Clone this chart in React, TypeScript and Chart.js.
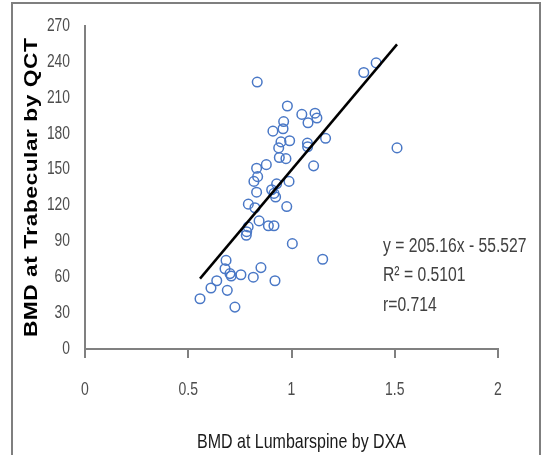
import { useEffect, useRef } from "react";
import { Chart, registerables } from "chart.js";

Chart.register(...registerables);

// BMD at lumbar spine by DXA (x) and BMD at trabecular by QCT (y)
const dxaValues = [
  0.557, 0.61, 0.638, 0.689, 0.726, 0.683, 0.678, 0.702, 0.708, 0.755,
  0.815, 0.852, 0.92, 1.151, 1.004, 0.783, 0.79, 0.781, 0.843, 0.888,
  0.915, 0.791, 0.823, 0.977, 0.831, 0.904, 0.915, 0.923, 0.928, 0.988,
  0.836, 0.818, 0.831, 0.878, 0.941, 0.973, 1.107, 0.938, 0.949, 0.991,
  1.077, 1.078, 1.165, 0.91, 0.959, 0.962, 1.08, 1.05, 1.114, 1.123,
  0.98, 0.834, 1.35, 1.41, 1.511,
];
const qctValues = [
  42, 51, 57, 49, 35, 74, 67, 63, 61, 62,
  60, 68, 57, 75, 88, 98, 102, 95, 107, 103,
  103, 121, 118, 119, 131, 133, 130, 127, 138, 140,
  144, 140, 151, 154, 160, 159, 153, 168, 173, 174,
  172, 169, 176, 182, 184, 190, 189, 196, 197, 193,
  203, 223, 231, 239, 168,
];
const xTickValues = [0, 0.5, 1, 1.5, 2];
const yTickValues = [0, 30, 60, 90, 120, 150, 180, 210, 240, 270];
const trendSlope = 205.16;
const trendIntercept = -55.527;
const statLines = ["y = 205.16x - 55.527", "R\u00B2 = 0.5101", "r=0.714"];
const xTitle = "BMD at Lumbarspine by DXA";
const yTitle = "BMD at Trabecular by QCT";

const SANS = '"Liberation Sans", Arial, sans-serif';
const STRETCH = 1.3; // the original figure is stretched vertically

export default function App() {
  const canvasRef = useRef<HTMLCanvasElement | null>(null);

  useEffect(() => {
    if (!canvasRef.current) return;
    const points = dxaValues.map((x, i) => ({ x, y: qctValues[i] }));
    const xMin = Math.min(...dxaValues);
    const xMax = Math.max(...dxaValues);
    const trend = [
      { x: xMin, y: trendSlope * xMin + trendIntercept },
      { x: xMax, y: trendSlope * xMax + trendIntercept },
    ];

    const statsPlugin = {
      id: "stats",
      afterDatasetsDraw(chart: any) {
        const { ctx, chartArea } = chart;
        ctx.save();
        ctx.fillStyle = "#404040";
        ctx.font = `15.7px ${SANS}`;
        ctx.textAlign = "left";
        ctx.textBaseline = "alphabetic";
        statLines.forEach((t, i) => {
          const x = chartArea.left + 298;
          const y = chartArea.top + 226 + i * 29.5;
          ctx.save();
          ctx.translate(x, y);
          ctx.scale(1, STRETCH);
          ctx.fillText(t, 0, 0);
          ctx.restore();
        });
        ctx.restore();
      },
    };

    const X_PAD = 24;
    const X_TICK_FONT = 14;

    const chart = new Chart(canvasRef.current, {
      type: "scatter",
      data: {
        datasets: [
          {
            label: "QCT",
            data: points,
            showLine: false,
            pointStyle: "circle",
            pointRadius: 4.8,
            pointBorderWidth: 1.5,
            pointBorderColor: "#4a78c6",
            pointBackgroundColor: "rgba(0,0,0,0)",
            order: 2,
          },
          {
            type: "line",
            label: "trend",
            data: trend,
            borderColor: "#000000",
            borderWidth: 2.5,
            pointRadius: 0,
            fill: false,
            order: 1,
          } as any,
        ],
      },
      options: {
        animation: false,
        responsive: false,
        maintainAspectRatio: false,
        layout: { padding: { left: 0, right: 43, top: 25, bottom: 0 } },
        plugins: {
          legend: { display: false },
          tooltip: { enabled: false },
          title: { display: false },
        },
        scales: {
          x: {
            type: "linear",
            min: 0,
            max: 2,
            afterBuildTicks: (scale: any) => {
              scale.ticks = xTickValues.map((v) => ({ value: v }));
            },
            ticks: {
              font: { family: SANS, size: X_TICK_FONT },
              color: "#4d4d4d",
              padding: X_PAD,
              maxRotation: 0,
              callback: (v: any) => String(v),
            },
            grid: {
              drawOnChartArea: false,
              drawTicks: true,
              tickLength: 9,
              color: "#808080",
              lineWidth: 2,
            },
            border: { display: true, color: "#808080", width: 2 },
            title: {
              display: true,
              text: xTitle,
              font: { family: SANS, size: 16 },
              color: "#1a1a1a",
              padding: { top: 0, bottom: 3 },
            },
            afterFit: (scale: any) => {
              scale.height = 106;
              if (!scale._patched) {
                scale._patched = true;
                const origTitle = scale.drawTitle;
                scale.drawTitle = function (...args: any[]) {
                  const c = this.ctx;
                  const cy = this.bottom - 3 - (16 * 1.2) / 2;
                  c.save();
                  c.translate(10, cy);
                  c.scale(1, STRETCH);
                  c.translate(0, -cy);
                  origTitle.apply(this, args);
                  c.restore();
                };
                const origLabels = scale.drawLabels;
                scale.drawLabels = function (...args: any[]) {
                  const c = this.ctx;
                  const cy = this.top + 9 + X_PAD + (X_TICK_FONT * 1.2) / 2;
                  c.save();
                  c.translate(0, cy);
                  c.scale(1, STRETCH);
                  c.translate(0, -cy);
                  origLabels.apply(this, args);
                  c.restore();
                };
              }
            },
          },
          y: {
            type: "linear",
            min: 0,
            max: 270,
            afterBuildTicks: (scale: any) => {
              scale.ticks = yTickValues.map((v) => ({ value: v }));
            },
            ticks: {
              font: { family: SANS, size: 18 },
              color: "#4d4d4d",
              padding: 15,
            },
            grid: { display: false, drawTicks: false },
            border: { display: true, color: "#808080", width: 2 },
            title: {
              display: true,
              text: yTitle,
              font: { family: SANS, size: 17.5, weight: "bold" },
              color: "#000000",
              padding: { top: 22, bottom: 0 },
            },
            afterFit: (scale: any) => {
              scale.width = 85;
              if (!scale._patched) {
                scale._patched = true;
                const origTitle = scale.drawTitle;
                scale.drawTitle = function (...args: any[]) {
                  const c = this.ctx;
                  const cy = (this.top + this.bottom) / 2;
                  c.save();
                  (c as any).letterSpacing = "0.4px";
                  c.translate(0, cy);
                  c.scale(1, STRETCH);
                  c.translate(0, -cy);
                  origTitle.apply(this, args);
                  c.restore();
                };
                const origLabels = scale.drawLabels;
                scale.drawLabels = function (...args: any[]) {
                  const c = this.ctx;
                  const rx = this.right - 15;
                  c.save();
                  c.translate(rx, 0);
                  c.scale(1 / STRETCH, 1);
                  c.translate(-rx, 0);
                  origLabels.apply(this, args);
                  c.restore();
                };
              }
            },
          },
        },
      },
      plugins: [statsPlugin],
    });

    return () => chart.destroy();
  }, []);

  return (
    <div
      style={{
        position: "fixed",
        left: 0,
        top: 0,
        width: 541,
        height: 455,
        background: "#ffffff",
        overflow: "hidden",
      }}
    >
      <div
        style={{
          position: "absolute",
          left: 11,
          top: 2,
          width: 530,
          height: 470,
          boxSizing: "border-box",
          border: "2px solid #7f7f7f",
        }}
      />
      <canvas
        ref={canvasRef}
        width={541}
        height={455}
        style={{ position: "absolute", left: 0, top: 0, width: 541, height: 455 }}
      />
    </div>
  );
}
